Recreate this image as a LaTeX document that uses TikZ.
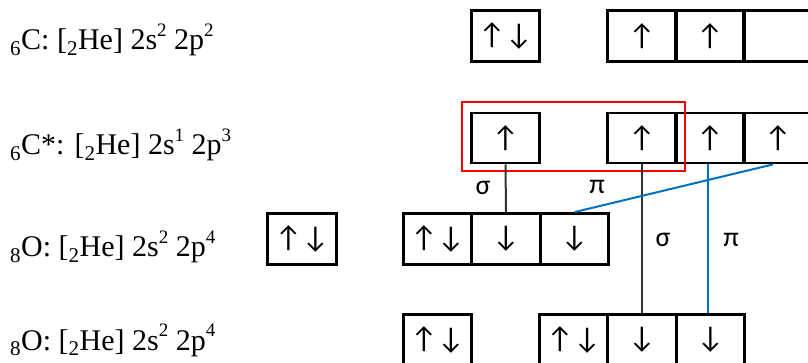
\documentclass[tikz,border=0pt]{standalone}
\usepackage{fontspec}
\setmainfont{Liberation Serif}
\newfontfamily\arrowfont{Carlito}
\usetikzlibrary{calc}
\definecolor{bondblue}{RGB}{0,112,192}
\definecolor{bondgray}{RGB}{50,50,50}
\tikzset{
  orb/.style={draw, line width=2.8pt, minimum width=68.5pt, minimum height=51pt, inner sep=0pt,
    font=\arrowfont\fontsize{30}{30}\selectfont},
  cfg/.style={anchor=base west, inner sep=0pt, font=\fontsize{30}{34}\selectfont},
  sig/.style={bondgray, line width=2pt},
  piline/.style={bondblue, line width=2pt},
  blab/.style={inner sep=0pt, font=\arrowfont\fontsize{28}{28}\selectfont},
  hl/.style={draw=red, line width=2pt}
}
\newcommand{\sps}[1]{\raisebox{0.45em}{\fontsize{19}{19}\selectfont #1}}
\begin{document}
\begin{tikzpicture}[x=1pt,y=-1pt]
\useasboundingbox (0,0) rectangle (808,363);
\clip (0,0) rectangle (808,363);
% labels
\node[cfg] (l1) at (10,50) {\textsubscript{6}C: [\textsubscript{2}He] 2s\sps{2} 2p\sps{2}};
\node[cfg] (l2) at (10,155) {\textsubscript{6}C*: [\textsubscript{2}He] 2s\sps{1} 2p\sps{3}};
\node[cfg] (l3) at (10,257) {\textsubscript{8}O: [\textsubscript{2}He] 2s\sps{2} 2p\sps{4}};
\node[cfg] (l4) at (10,350) {\textsubscript{8}O: [\textsubscript{2}He] 2s\sps{2} 2p\sps{4}};
% row 1
\node[orb] (a1s) at (505.5,36) {↑↓};
\node[orb] (a1p1) at (642,36) {↑};
\node[orb] (a1p2) at (710,36) {↑};
\node[orb] (a1p3) at (778,36) {};
% row 2
\node[orb, minimum height=50pt] (a2s) at (505.5,138) {↑};
\node[orb, minimum height=50pt] (a2p1) at (642,138) {↑};
\node[orb, minimum height=50pt] (a2p2) at (710,138) {↑};
\node[orb, minimum height=50pt] (a2p3) at (778,138) {↑};
% row 3
\node[orb] (b1x) at (302,239) {↑↓};
\node[orb] (b1a) at (437.5,239) {↑↓};
\node[orb] (b1b) at (506,239) {↓};
\node[orb] (b1c) at (574.5,239) {↓};
% row 4
\node[orb] (b2s) at (437.5,340) {↑↓};
\node[orb] (b2a) at (573.5,340) {↑↓};
\node[orb] (b2b) at (642,340) {↓};
\node[orb] (b2c) at (710.5,340) {↓};
% highlight
\draw[hl] ($(a2s.north west)+(-8,-10)$) rectangle ($(a2p1.south east)+(7,7)$);
% bonds
\draw[sig] (a2s.south) -- (b1b.north);
\draw[sig] (a2p1.south) -- (b2b.north);
\draw[piline] ($(a2p2.south)+(-2,0)$) coordinate (p2s) -- (p2s |- b2c.north);
\draw[piline] ($(a2p3.south)+(-5,0)$) -- (b1c.north);
% bond labels
\node[blab] (s1) at (483,188) {σ};
\node[blab] (pi1) at (597,187) {π};
\node[blab] (s2) at (663,240) {σ};
\node[blab] (pi2) at (731,240) {π};
\end{tikzpicture}
\end{document}
